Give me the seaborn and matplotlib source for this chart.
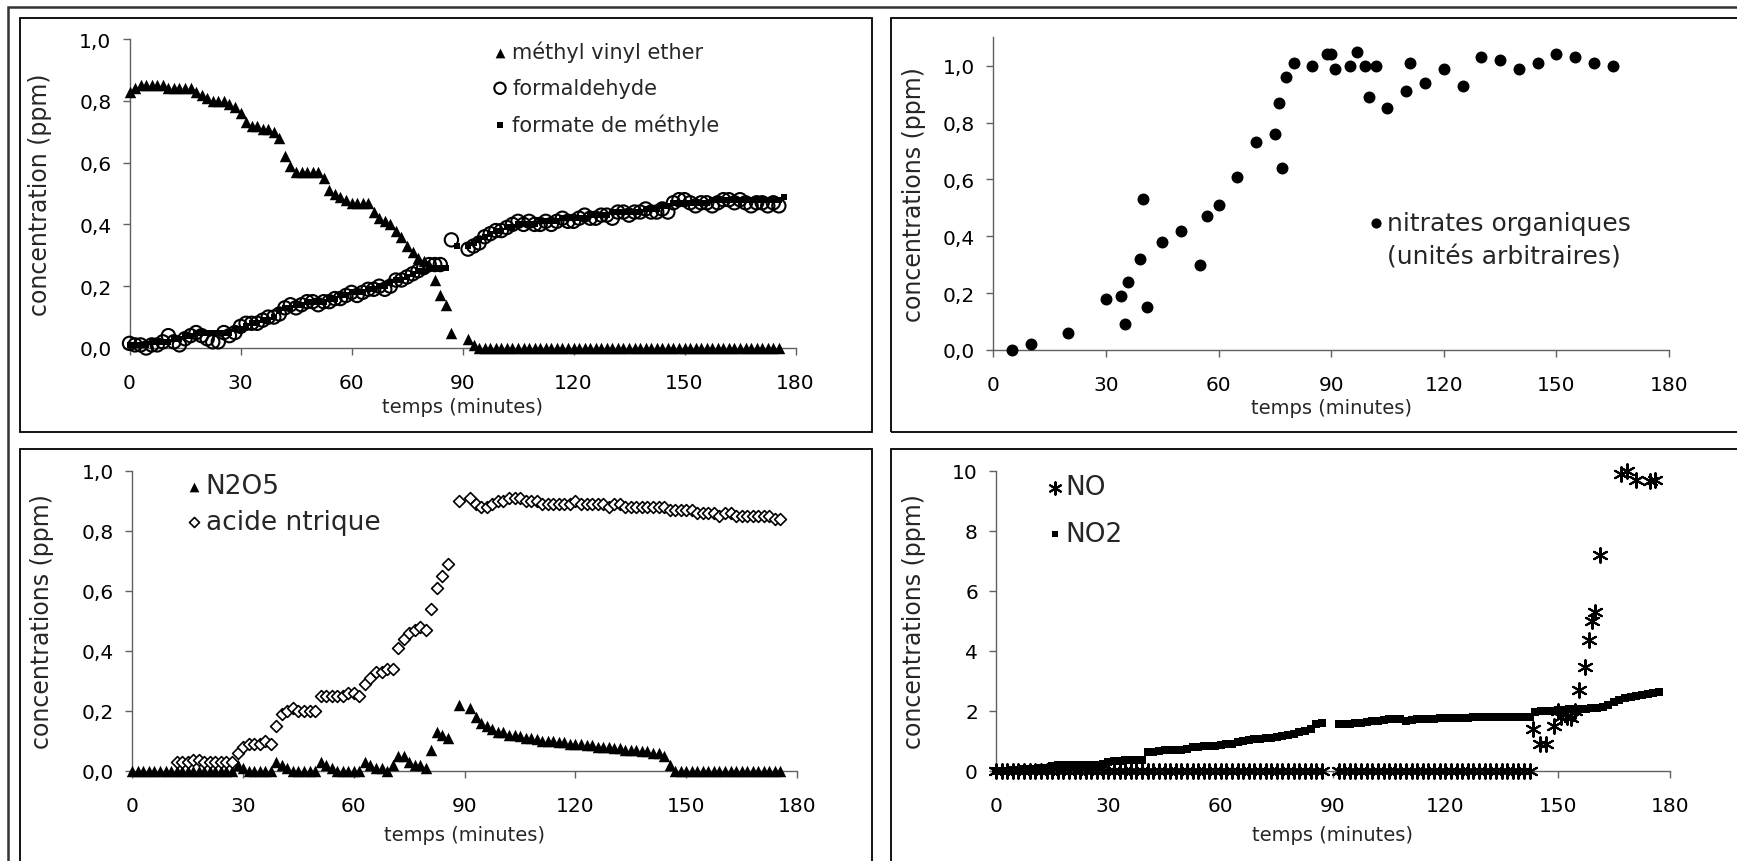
import seaborn as sns
import matplotlib.pyplot as plt
from matplotlib.patches import Rectangle
from matplotlib.lines import Line2D

nan = float("nan")

# ------------------------------------------------------------------
# values (time in minutes)
# ------------------------------------------------------------------
x_ticks = [0, 30, 60, 90, 120, 150, 180]
x_tick_labels = ["0", "30", "60", "90", "120", "150", "180"]
frac_ticks = [0.0, 0.2, 0.4, 0.6, 0.8, 1.0]
frac_tick_labels = ["0,0", "0,2", "0,4", "0,6", "0,8", "1,0"]
nox_ticks = [0, 2, 4, 6, 8, 10]
nox_tick_labels = ["0", "2", "4", "6", "8", "10"]

# sampling times of the on-line measurements (nan = no point at that time)
t_grid = [0, 1.5, 3, 4.5, 6, 7.5, 9, 10.5, 12, 13.5,
          15, 16.5, 18, 19.5, 21, 22.5, 24, 25.5, 27, 28.5,
          30, 31.5, 33, 34.5, 36, 37.5, 39, 40.5, 42, 43.5,
          45, 46.5, 48, 49.5, 51, 52.5, 54, 55.5, 57, 58.5,
          60, 61.5, 63, 64.5, 66, 67.5, 69, 70.5, 72, 73.5,
          75, 76.5, 78, 79.5, 81, 82.5, 84, 85.5, 87, 88.5,
          90, 91.5, 93, 94.5, 96, 97.5, 99, 100.5, 102, 103.5,
          105, 106.5, 108, 109.5, 111, 112.5, 114, 115.5, 117, 118.5,
          120, 121.5, 123, 124.5, 126, 127.5, 129, 130.5, 132, 133.5,
          135, 136.5, 138, 139.5, 141, 142.5, 144, 145.5, 147, 148.5,
          150, 151.5, 153, 154.5, 156, 157.5, 159, 160.5, 162, 163.5,
          165, 166.5, 168, 169.5, 171, 172.5, 174, 175.5, 177]

# panel 1 : methyl vinyl ether / formaldehyde / methyl formate (ppm)
mve_v = [0.83, 0.84, 0.85, 0.85, 0.85, 0.85, 0.85, 0.84, 0.84, 0.84,
         0.84, 0.84, 0.83, 0.82, 0.81, 0.80, 0.80, 0.80, 0.79, 0.78,
         0.76, 0.73, 0.72, 0.72, 0.71, 0.71, 0.70, 0.68, 0.62, 0.59,
         0.57, 0.57, 0.57, 0.57, 0.57, 0.55, 0.51, 0.50, 0.49, 0.48,
         0.47, 0.47, 0.47, 0.47, 0.44, 0.42, 0.41, 0.40, 0.38, 0.36,
         0.33, 0.31, 0.29, 0.28, 0.27, 0.22, 0.17, 0.14, 0.05, nan,
         nan, 0.03, 0.01, 0.0, 0.0, 0.0, 0.0, 0.0, 0.0, 0.0,
         0.0, 0.0, 0.0, 0.0, 0.0, 0.0, 0.0, 0.0, 0.0, 0.0,
         0.0, 0.0, 0.0, 0.0, 0.0, 0.0, 0.0, 0.0, 0.0, 0.0,
         0.0, 0.0, 0.0, 0.0, 0.0, 0.0, 0.0, 0.0, 0.0, 0.0,
         0.0, 0.0, 0.0, 0.0, 0.0, 0.0, 0.0, 0.0, 0.0, 0.0,
         0.0, 0.0, 0.0, 0.0, 0.0, 0.0, 0.0, 0.0, nan]

hcho_v = [0.015, 0.01, 0.01, 0.0, 0.01, 0.01, 0.02, 0.04, 0.02, 0.01,
          0.03, 0.04, 0.05, 0.04, 0.03, 0.02, 0.02, 0.05, 0.04, 0.05,
          0.07, 0.08, 0.08, 0.08, 0.09, 0.10, 0.10, 0.11, 0.13, 0.14,
          0.13, 0.14, 0.15, 0.15, 0.14, 0.15, 0.15, 0.16, 0.16, 0.17,
          0.18, 0.17, 0.18, 0.19, 0.19, 0.20, 0.19, 0.20, 0.22, 0.22,
          0.23, 0.24, 0.25, 0.26, 0.27, 0.27, 0.27, nan, 0.35, nan,
          nan, 0.32, 0.33, 0.34, 0.36, 0.37, 0.38, 0.38, 0.39, 0.40,
          0.41, 0.40, 0.41, 0.40, 0.40, 0.41, 0.40, 0.41, 0.42, 0.41,
          0.41, 0.42, 0.43, 0.42, 0.42, 0.43, 0.43, 0.42, 0.44, 0.44,
          0.43, 0.44, 0.44, 0.45, 0.44, 0.44, 0.45, 0.44, 0.47, 0.48,
          0.48, 0.47, 0.46, 0.47, 0.47, 0.46, 0.47, 0.48, 0.48, 0.47,
          0.48, 0.47, 0.46, 0.47, 0.47, 0.46, 0.47, 0.46, nan]

fm_v = [0.01, 0.01, 0.01, 0.01, 0.02, 0.02, 0.02, 0.02, 0.03, 0.03,
        0.04, 0.04, 0.05, 0.05, 0.05, 0.05, 0.05, 0.05, 0.05, 0.06,
        0.06, 0.07, 0.08, 0.08, 0.09, 0.09, 0.10, 0.12, 0.13, 0.13,
        0.14, 0.14, 0.15, 0.15, 0.15, 0.15, 0.16, 0.16, 0.17, 0.17,
        0.18, 0.18, 0.18, 0.19, 0.19, 0.20, 0.20, 0.21, 0.22, 0.22,
        0.23, 0.24, 0.25, 0.25, 0.26, 0.26, 0.26, 0.26, nan, 0.33,
        nan, 0.33, 0.34, 0.35, 0.36, 0.37, 0.38, 0.38, 0.39, 0.39,
        0.40, 0.40, 0.40, 0.40, 0.41, 0.41, 0.41, 0.41, 0.42, 0.42,
        0.42, 0.42, 0.42, 0.43, 0.43, 0.43, 0.43, 0.44, 0.44, 0.44,
        0.44, 0.44, 0.44, 0.45, 0.45, 0.45, 0.46, 0.46, 0.47, 0.47,
        0.47, 0.47, 0.47, 0.47, 0.47, 0.48, 0.48, 0.48, 0.48, 0.48,
        0.48, 0.48, 0.48, 0.48, 0.48, 0.48, 0.48, 0.48, 0.49]

# panel 2 : organic nitrates (arbitrary units)
nit_t = [5, 10, 20, 30, 34, 35, 36, 39, 40, 41, 45, 50, 55, 57, 60, 65, 70, 75, 76, 77,
         78, 80, 85, 89, 90, 91, 95, 97, 99, 100, 102, 105, 110, 111, 115, 120, 125, 130,
         135, 140, 145, 150, 155, 160, 165]
nit_v = [0.0, 0.02, 0.06, 0.18, 0.19, 0.09, 0.24, 0.32, 0.53, 0.15, 0.38, 0.42, 0.30,
         0.47, 0.51, 0.61, 0.73, 0.76, 0.87, 0.64, 0.96, 1.01, 1.00, 1.04, 1.04, 0.99,
         1.00, 1.05, 1.00, 0.89, 1.00, 0.85, 0.91, 1.01, 0.94, 0.99, 0.93, 1.03, 1.02,
         0.99, 1.01, 1.04, 1.03, 1.01, 1.00]

# panel 3 : N2O5 / nitric acid (ppm)
n2o5_v = [0.0, 0.0, 0.0, 0.0, 0.0, 0.0, 0.0, 0.0, 0.0, 0.0,
          0.0, 0.0, 0.0, 0.0, 0.0, 0.0, 0.0, 0.0, 0.0, 0.02,
          0.01, 0.0, 0.0, 0.0, 0.0, 0.0, 0.03, 0.02, 0.01, 0.0,
          0.0, 0.0, 0.0, 0.0, 0.03, 0.02, 0.01, 0.0, 0.0, 0.0,
          0.0, 0.0, 0.03, 0.02, 0.01, 0.01, 0.0, 0.02, 0.05, 0.05,
          0.03, 0.02, 0.02, 0.01, 0.07, 0.13, 0.12, 0.11, nan, 0.22,
          nan, 0.21, 0.18, 0.16, 0.15, 0.14, 0.13, 0.13, 0.12, 0.12,
          0.115, 0.11, 0.11, 0.105, 0.10, 0.10, 0.10, 0.095, 0.095, 0.09,
          0.09, 0.09, 0.085, 0.085, 0.08, 0.08, 0.08, 0.075, 0.075, 0.07,
          0.07, 0.07, 0.065, 0.065, 0.06, 0.06, 0.05, 0.02, 0.0, 0.0,
          0.0, 0.0, 0.0, 0.0, 0.0, 0.0, 0.0, 0.0, 0.0, 0.0,
          0.0, 0.0, 0.0, 0.0, 0.0, 0.0, 0.0, 0.0, nan]

hno3_v = [nan, nan, nan, nan, nan, nan, nan, nan, 0.03, 0.03,
          0.03, 0.035, 0.035, 0.03, 0.03, 0.03, 0.03, 0.03, 0.03, 0.06,
          0.08, 0.09, 0.09, 0.09, 0.10, 0.09, 0.15, 0.19, 0.20, 0.21,
          0.20, 0.20, 0.20, 0.20, 0.25, 0.25, 0.25, 0.25, 0.25, 0.26,
          0.26, 0.25, 0.29, 0.31, 0.33, 0.33, 0.34, 0.34, 0.41, 0.44,
          0.46, 0.47, 0.48, 0.47, 0.54, 0.61, 0.65, 0.69, nan, 0.90,
          nan, 0.91, 0.89, 0.88, 0.88, 0.89, 0.90, 0.90, 0.91, 0.91,
          0.91, 0.90, 0.90, 0.90, 0.89, 0.89, 0.89, 0.89, 0.89, 0.89,
          0.90, 0.89, 0.89, 0.89, 0.89, 0.89, 0.88, 0.89, 0.89, 0.88,
          0.88, 0.88, 0.88, 0.88, 0.88, 0.88, 0.88, 0.87, 0.87, 0.87,
          0.87, 0.87, 0.86, 0.86, 0.86, 0.86, 0.85, 0.86, 0.86, 0.85,
          0.85, 0.85, 0.85, 0.85, 0.85, 0.85, 0.84, 0.84, nan]

# panel 4 : NO / NO2 (ppm)
no_v = [0.0, 0.0, 0.0, 0.0, 0.0, 0.0, 0.0, 0.0, 0.0, 0.0,
        0.0, 0.0, 0.0, 0.0, 0.0, 0.0, 0.0, 0.0, 0.0, 0.0,
        0.0, 0.0, 0.0, 0.0, 0.0, 0.0, 0.0, 0.0, 0.0, 0.0,
        0.0, 0.0, 0.0, 0.0, 0.0, 0.0, 0.0, 0.0, 0.0, 0.0,
        0.0, 0.0, 0.0, 0.0, 0.0, 0.0, 0.0, 0.0, 0.0, 0.0,
        0.0, 0.0, 0.0, 0.0, 0.0, 0.0, 0.0, 0.0, 0.0, nan,
        nan, 0.0, 0.0, 0.0, 0.0, 0.0, 0.0, 0.0, 0.0, 0.0,
        0.0, 0.0, 0.0, 0.0, 0.0, 0.0, 0.0, 0.0, 0.0, 0.0,
        0.0, 0.0, 0.0, 0.0, 0.0, 0.0, 0.0, 0.0, 0.0, 0.0,
        0.0, 0.0, 0.0, 0.0, 0.0, 0.0, nan, nan, nan, nan,
        nan, nan, nan, nan, nan, nan, nan, nan, nan, nan,
        nan, nan, nan, nan, nan, nan, nan, nan, nan]
# NO once it starts to rise (off the regular grid)
no_rise_t = [143.3, 145.3, 146.8, 148.9, 150.2, 151.0, 152.4, 153.5, 154.7, 155.7,
             157.2, 158.3, 159.1, 160.1, 161.3, 166.9, 168.4, 170.9, 174.6, 176.1]
no_rise_v = [1.38, 0.89, 0.89, 1.50, 2.00, 1.80, 1.80, 1.75, 2.00, 2.70,
             3.45, 4.35, 5.00, 5.30, 7.20, 9.90, 10.0, 9.70, 9.65, 9.70]

no2_v = [0.0, 0.0, 0.0, 0.02, 0.03, 0.05, 0.06, 0.07, 0.08, 0.10,
         0.15, 0.18, 0.18, 0.20, 0.20, 0.20, 0.20, 0.20, 0.20, 0.22,
         0.28, 0.32, 0.34, 0.35, 0.35, 0.36, 0.36, 0.62, 0.64, 0.65,
         0.68, 0.68, 0.69, 0.70, 0.72, 0.78, 0.80, 0.82, 0.84, 0.84,
         0.86, 0.88, 0.90, 0.95, 0.98, 1.02, 1.05, 1.07, 1.08, 1.10,
         1.13, 1.16, 1.20, 1.24, 1.28, 1.32, 1.40, 1.57, 1.58, nan,
         nan, 1.56, 1.57, 1.57, 1.58, 1.60, 1.63, 1.65, 1.67, 1.70,
         1.72, 1.72, 1.72, 1.65, 1.70, 1.73, 1.74, 1.74, 1.74, 1.75,
         1.75, 1.75, 1.76, 1.76, 1.77, 1.78, 1.80, 1.80, 1.80, 1.80,
         1.80, 1.80, 1.80, 1.80, 1.80, 1.80, 1.95, 2.00, 2.00, 2.00,
         2.02, 2.03, 2.05, 2.05, 2.05, 2.06, 2.08, 2.10, 2.12, 2.20,
         2.30, 2.35, 2.42, 2.45, 2.50, 2.52, 2.56, 2.60, 2.62]

# ------------------------------------------------------------------
sns.set_style("white")
plt.rcParams["font.family"] = ["DejaVu Sans"]

W, H = 1737, 862
AXIS_GREY = "#606060"
fig = plt.figure(figsize=(W / 100, H / 100), dpi=100)


def px_axes(left, right, top, bottom):
    # axes box given in pixel coordinates of the final image
    return fig.add_axes([left / W, 1 - bottom / H, (right - left) / W, (bottom - top) / H])


def px_rect(left, top, right, bottom, lw=1.3, color="black"):
    r = Rectangle((left / W, 1 - bottom / H), (right - left) / W, (bottom - top) / H,
                  transform=fig.transFigure, fill=False, lw=lw, edgecolor=color)
    fig.add_artist(r)


# outer frame and the four panel frames (right / bottom ones run off the page)
px_rect(8, 8, 1800, 950, lw=1.8, color="#333333")
px_rect(20, 19, 872, 433)
px_rect(891, 19, 1800, 433)
px_rect(20, 450, 872, 950)
px_rect(891, 450, 1800, 950)


def style_axes(ax, yticks, ylabels, ylim, ylabel, ylab_x, xlab_y):
    ax.set_xlim(0, 180)
    ax.set_ylim(*ylim)
    ax.set_xticks(x_ticks)
    ax.set_xticklabels(x_tick_labels)
    ax.set_yticks(yticks)
    ax.set_yticklabels(ylabels)
    for s in ["top", "right"]:
        ax.spines[s].set_visible(False)
    for s in ["left", "bottom"]:
        ax.spines[s].set_color(AXIS_GREY)
        ax.spines[s].set_linewidth(1.0)
    ax.tick_params(direction="out", length=5, width=1, color=AXIS_GREY,
                   labelsize=14.5, labelcolor="black", bottom=True, left=True)
    ax.tick_params(axis="x", pad=13)
    ax.tick_params(axis="y", pad=8)
    ax.set_xlabel("temps (minutes)", fontsize=14)
    ax.xaxis.set_label_coords(0.5, xlab_y)
    ax.set_ylabel(ylabel, fontsize=17)
    ax.yaxis.set_label_coords(ylab_x, 0.5)
    ax.patch.set_alpha(0)


def legend_at(ax, handles, labels, left, top, size, spacing, textpad):
    ax.legend(handles, labels, loc="upper left", bbox_to_anchor=(left / W, 1 - top / H),
              bbox_transform=fig.transFigure, frameon=False, fontsize=size,
              handlelength=0.7, handletextpad=textpad, borderpad=0, borderaxespad=0,
              labelspacing=spacing, markerscale=0.85)


def dots(ax, x, y, marker, size, z, lw=0.0):
    sns.scatterplot(x=x, y=y, marker=marker, s=size, color="black", linewidth=lw,
                    ax=ax, clip_on=False, zorder=z, legend=False)
    return ax.collections[-1]


def hollow(coll, face, lw):
    coll.set_facecolor(face)
    coll.set_edgecolor("black")
    coll.set_linewidth(lw)


# ---------------- panel 1 ----------------
ax1 = px_axes(129.5, 795.5, 40, 349)
h_mve = dots(ax1, t_grid, mve_v, "^", 68, 3)
h_hcho = dots(ax1, t_grid, hcho_v, "o", 92, 4)
hollow(h_hcho, "none", 1.5)
h_fm = dots(ax1, t_grid, fm_v, "s", 22, 5)
style_axes(ax1, frac_ticks, frac_tick_labels, (0, 1.0), "concentration (ppm)", -0.116, -0.16)
legend_at(ax1, [h_mve, h_hcho, h_fm],
          ["méthyl vinyl ether", "formaldehyde", "formate de méthyle"],
          492.7, 41.8, 15, 0.74, 0.23)

# ---------------- panel 2 ----------------
ax2 = px_axes(993.3, 1669, 38.3, 351)
h_nit = dots(ax2, nit_t, nit_v, "o", 74, 3)
style_axes(ax2, frac_ticks, frac_tick_labels, (0, 1.1), "concentrations (ppm)", -0.0996, -0.152)
legend_at(ax2, [h_nit, Line2D([], [], linestyle="none")],
          ["nitrates organiques", "(unités arbitraires)"], 1367, 211.7, 18, 0.39, 0.09)

# ---------------- panel 3 ----------------
ax3 = px_axes(132.3, 797, 471.7, 771.7)
h_n2o5 = dots(ax3, t_grid, n2o5_v, "^", 68, 3)
h_hno3 = dots(ax3, t_grid, hno3_v, "D", 36, 4)
hollow(h_hno3, "white", 1.2)
style_axes(ax3, frac_ticks, frac_tick_labels, (0, 1.0), "concentrations (ppm)", -0.118, -0.181)
legend_at(ax3, [h_n2o5, h_hno3], ["N2O5", "acide ntrique"], 184.7, 474.5, 19, 0.375, 0.1)

# ---------------- panel 4 ----------------
ax4 = px_axes(996, 1670, 471.7, 771.7)
h_no2 = dots(ax4, t_grid, no2_v, "s", 34, 3)
h_no = dots(ax4, t_grid, no_v, (6, 2, 0), 110, 4, lw=1.5)
dots(ax4, no_rise_t, no_rise_v, (6, 2, 0), 110, 4, lw=1.5)
style_axes(ax4, nox_ticks, nox_tick_labels, (0, 10), "concentrations (ppm)", -0.104, -0.181)
legend_at(ax4, [h_no, h_no2], ["NO", "NO2"], 1045.4, 475.5, 19, 0.79, 0.07)

fig.savefig("out.png", dpi=100, facecolor="white")
plt.close(fig)
